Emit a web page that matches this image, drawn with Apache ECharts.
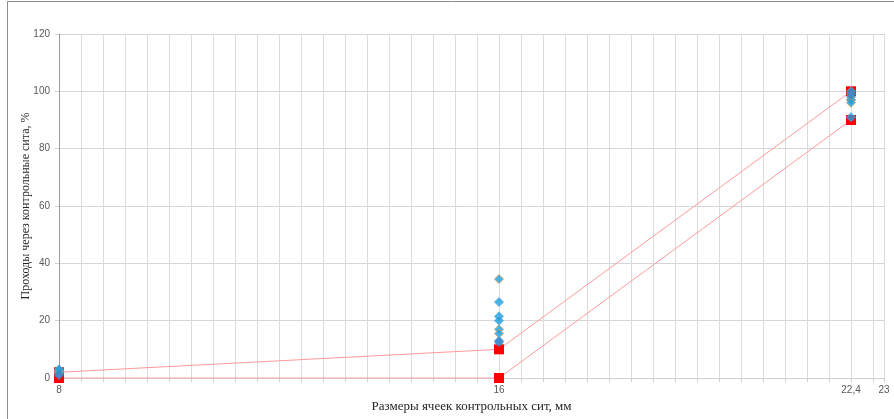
<!DOCTYPE html>
<html>
<head>
<meta charset="utf-8">
<script src="https://cdn.jsdelivr.net/npm/echarts@6/dist/echarts.min.js"></script>
<style>
html,body{margin:0;padding:0;background:#fff;}
#chart{width:894px;height:419px;}
</style>
</head>
<body>
<div id="chart"></div>
<script>
// Sieve sizes (mm)
const sieveSizes = [8, 16, 22.4];
// Grading envelope limits (%)
const upperLimit = [2, 10, 100];
const lowerLimit = [0, 0, 90];
// Individual sample results (%) at each sieve size
const sampleA = [2.5, 34.5, 97];
const sampleB = [3, 26.5, 99];
const sampleC = [2, 21.5, 100];
const sampleD = [1.5, 20, 98];
const sampleE = [2.5, 17, 97];
const sampleF = [2, 15.5, 96];
const sampleG = [3, 13, 91];
const sampleH = [1, 12.5, 99];
// Axis labels shown
const xLabelValues = [8, 16, 22.4, 23];
const xTitle = 'Размеры ячеек контрольных сит, мм';
const yTitle = 'Проходы через контрольные сита, %';

const pairs = arr => sieveSizes.map((x, i) => [x, arr[i]]);

const samples = [
  {d: sampleA, border: '#d79a57'},
  {d: sampleB, border: '#5aa7d8'},
  {d: sampleC, border: '#5aa7d8'},
  {d: sampleD, border: '#5aa7d8'},
  {d: sampleE, border: '#b8a060'},
  {d: sampleF, border: '#d79a57'},
  {d: sampleG, border: '#5aa7d8'},
  {d: sampleH, border: '#4f79b0', fill: '#3f86c8'}
];

const chart = echarts.init(document.getElementById('chart'));
const series = [];
[upperLimit, lowerLimit].forEach(arr => {
  series.push({
    type: 'line',
    data: pairs(arr),
    symbol: 'rect',
    symbolSize: 10,
    lineStyle: {color: '#ff9a9a', width: 1},
    itemStyle: {color: '#ff0000'},
    z: 2
  });
});
samples.forEach(s => {
  series.push({
    type: 'scatter',
    data: pairs(s.d),
    symbol: 'diamond',
    symbolSize: 9,
    itemStyle: {color: s.fill || '#1fa0e0', borderColor: s.border, borderWidth: 1},
    z: 3
  });
});

chart.setOption({
  animation: false,
  backgroundColor: '#fff',
  graphic: [{
    type: 'rect',
    shape: {x: 7.5, y: 1.5, width: 1000, height: 1000},
    style: {fill: 'none', stroke: '#8c8c8c', lineWidth: 1},
    silent: true
  }],
  grid: {left: 59, right: 10, top: 34, bottom: 41},
  xAxis: {
    type: 'value',
    min: 8,
    max: 23,
    interval: 0.4,
    name: xTitle,
    nameLocation: 'middle',
    nameGap: 22,
    nameMoveOverlap: false,
    nameTextStyle: {fontFamily: 'Liberation Serif', fontSize: 13, color: '#262626'},
    axisLine: {show: true, lineStyle: {color: '#d0d0d0'}},
    axisTick: {show: true, length: 4, lineStyle: {color: '#d0d0d0'}},
    splitLine: {show: true, lineStyle: {color: '#dcdcdc'}},
    axisLabel: {
      fontFamily: 'Liberation Sans',
      fontSize: 10,
      color: '#595959',
      margin: 7,
      showMinLabel: true,
      showMaxLabel: true,
      hideOverlap: false,
      formatter: v => {
        for (const t of xLabelValues) {
          if (Math.abs(v - t) < 1e-6) return String(t).replace('.', ',');
        }
        return '';
      }
    }
  },
  yAxis: {
    type: 'value',
    min: 0,
    max: 120,
    interval: 20,
    name: yTitle,
    nameLocation: 'middle',
    nameGap: 27,
    nameMoveOverlap: false,
    nameTextStyle: {fontFamily: 'Liberation Serif', fontSize: 12, color: '#262626'},
    axisLine: {show: true, lineStyle: {color: '#9a9a9a'}},
    axisTick: {show: true, length: 4, lineStyle: {color: '#d0d0d0'}},
    splitLine: {show: true, lineStyle: {color: '#d6d6d6'}},
    axisLabel: {fontFamily: 'Liberation Sans', fontSize: 10, color: '#595959', margin: 9}
  },
  series: series
});
</script>
</body>
</html>
